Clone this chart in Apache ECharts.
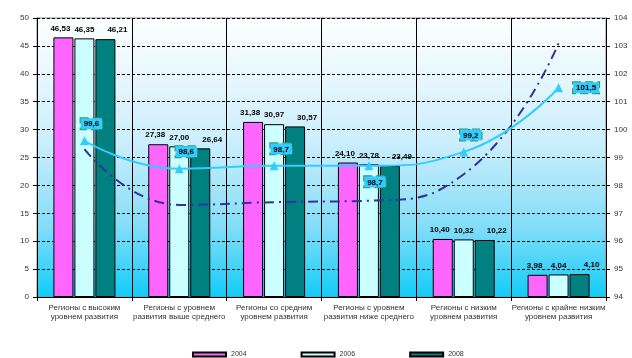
<!DOCTYPE html>
<html><head><meta charset="utf-8">
<script src="https://cdn.jsdelivr.net/npm/echarts@6/dist/echarts.min.js"></script>
<style>html,body{margin:0;padding:0;background:#fff}#c{width:632px;height:358px}</style>
</head><body><div id="c"></div>
<script>
var categories = [
  'Регионы с высоким\nуровнем развития',
  'Регионы с уровнем\nразвития выше среднего',
  'Регионы со средним\nуровнем развития',
  'Регионы с уровнем\nразвития ниже среднего',
  'Регионы с низким\nуровнем развития',
  'Регионы с крайне низким\nуровнем развития'
];
var years = ['2004', '2006', '2008'];
var v2004 = [46.53, 27.38, 31.38, 24.10, 10.40, 3.98];
var v2006 = [46.35, 27.00, 30.97, 23.78, 10.32, 4.04];
var v2008 = [46.21, 26.64, 30.57, 23.49, 10.22, 4.10];
var index = [99.6, 98.6, 98.7, 98.7, 99.2, 101.5];
var trend = [99.3, 97.3, 97.4, 97.45, 98.4, 103.1];
var leftTicks = {min: 0, max: 50, interval: 5};
var rightTicks = {min: 94, max: 104, interval: 1};

var barColors = ['#FF66FF', '#CCFFFF', '#008080'];
var labelOffsets = [[-3, 0], [0, 0], [12, 0]];
var idxLabelPos = ['top', 'top', 'top', 'bottom', 'top', 'right'];

function fmt(v, d) { return v.toFixed(d).replace('.', ','); }

var font = 'Liberation Sans, Arial, sans-serif';
var barSeries = [v2004, v2006, v2008].map(function (arr, i) {
  return {
    name: years[i], type: 'bar', yAxisIndex: 0, data: arr,
    barWidth: 20, barGap: '5%',
    itemStyle: {color: barColors[i], borderColor: '#000', borderWidth: 1},
    label: {show: true, position: 'top', distance: 5, offset: labelOffsets[i],
      fontFamily: font, fontSize: 8, fontWeight: 'bold', color: '#000',
      formatter: function (p) { return fmt(p.value, 2); }},
    z: 2
  };
});

var indexData = index.map(function (v, i) {
  var pos = idxLabelPos[i];
  var off = pos === 'right' ? [4, 0] : (pos === 'bottom' ? [6, 0] : [7, -1]);
  return {value: v, label: {position: pos, offset: off}};
});

var chart = echarts.init(document.getElementById('c'), null, {renderer: 'canvas'});
chart.setOption({
  animation: false,
  backgroundColor: '#fff',
  grid: {left: 37, right: 26, top: 18, bottom: 61, show: true, borderWidth: 1, borderColor: '#888',
    backgroundColor: {type: 'linear', x: 0, y: 0, x2: 0, y2: 1, colorStops: [
      {offset: 0, color: '#FFFFFF'}, {offset: 0.45, color: '#CBEEFC'},
      {offset: 0.75, color: '#82DDF8'}, {offset: 1, color: '#10CCF8'}]}},
  legend: {left: 187, top: 346, itemWidth: 33, itemHeight: 4, itemGap: 54,
    data: years, icon: 'rect',
    textStyle: {fontFamily: font, fontSize: 7, color: '#333'}},
  xAxis: {type: 'category', data: categories, boundaryGap: true,
    axisLine: {lineStyle: {color: '#000', width: 1}},
    axisTick: {show: true, alignWithLabel: false, length: 4, lineStyle: {color: '#000'}},
    splitLine: {show: true, interval: 0, lineStyle: {color: '#000', width: 1}},
    axisLabel: {interval: 0, fontFamily: font, fontSize: 8, color: '#333', lineHeight: 9, margin: 6}},
  yAxis: [
    {type: 'value', min: leftTicks.min, max: leftTicks.max, interval: leftTicks.interval,
      axisLine: {show: true, lineStyle: {color: '#000'}},
      axisTick: {show: true, length: 4, lineStyle: {color: '#000'}},
      splitLine: {show: true, lineStyle: {color: '#000', type: [3, 2], width: 1}},
      axisLabel: {fontFamily: font, fontSize: 8, color: '#333', margin: 8}},
    {type: 'value', position: 'right', min: rightTicks.min, max: rightTicks.max, interval: rightTicks.interval,
      axisLine: {show: true, lineStyle: {color: '#000'}},
      axisTick: {show: true, length: 4, lineStyle: {color: '#000'}},
      splitLine: {show: false},
      axisLabel: {fontFamily: font, fontSize: 8, color: '#333', margin: 8}}
  ],
  series: barSeries.concat([
    {name: 'trend', type: 'line', yAxisIndex: 1, data: trend, smooth: 0.5,
      showSymbol: false, symbol: 'none',
      lineStyle: {color: '#333399', width: 2, type: [10, 5, 2, 5]}, z: 3},
    {name: 'index', type: 'line', yAxisIndex: 1, data: indexData, smooth: 0.5,
      symbol: 'triangle', symbolSize: 9,
      itemStyle: {color: '#33CCFF'},
      lineStyle: {color: '#33CCFF', width: 2},
      label: {show: true, distance: 6, fontFamily: font, fontSize: 8, fontWeight: 'bold', color: '#000',
        backgroundColor: '#33CCFF', borderColor: '#339966', borderType: 'dashed', borderWidth: 1,
        padding: [2, 3, 1, 3],
        formatter: function (p) { return fmt(p.value, 1); }},
      z: 4}
  ])
});
</script>
</body></html>
